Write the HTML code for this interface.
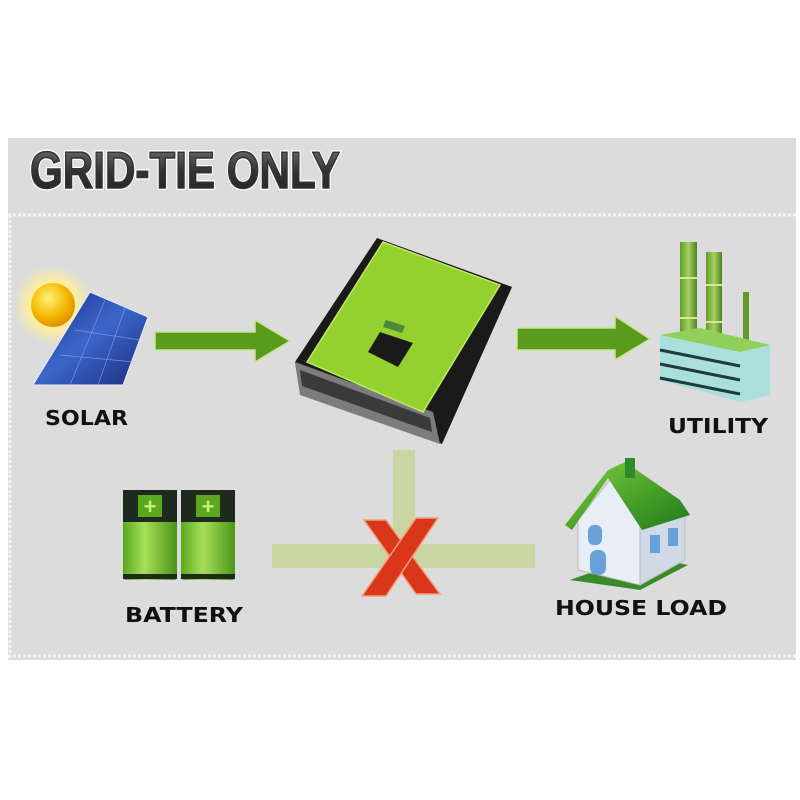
<!DOCTYPE html>
<html><head><meta charset="utf-8"><style>
html,body{margin:0;padding:0;background:#fff;width:800px;height:800px;overflow:hidden}
</style></head><body>
<svg width="800" height="800" viewBox="0 0 800 800" xmlns="http://www.w3.org/2000/svg">
<defs>
<linearGradient id="tg" x1="0" y1="0" x2="0" y2="1"><stop offset="0" stop-color="#777"/><stop offset="0.5" stop-color="#333"/><stop offset="1" stop-color="#222"/></linearGradient>
<radialGradient id="sun" cx="0.4" cy="0.35" r="0.7"><stop offset="0" stop-color="#fff27a"/><stop offset="0.6" stop-color="#f5b800"/><stop offset="1" stop-color="#d98a00"/></radialGradient>
<radialGradient id="glow"><stop offset="0.55" stop-color="#fff09a"/><stop offset="1" stop-color="#fff09a" stop-opacity="0"/></radialGradient>
<linearGradient id="pan" x1="0" y1="0" x2="1" y2="1"><stop offset="0" stop-color="#1f2f8a"/><stop offset="0.5" stop-color="#3b66c9"/><stop offset="1" stop-color="#1b2a78"/></linearGradient>
<linearGradient id="bat" x1="0" y1="0" x2="1" y2="0"><stop offset="0" stop-color="#5aa81e"/><stop offset="0.4" stop-color="#a6e05a"/><stop offset="1" stop-color="#4c9418"/></linearGradient>
<linearGradient id="roof" x1="0" y1="0" x2="1" y2="1"><stop offset="0" stop-color="#7cd03a"/><stop offset="1" stop-color="#1f7a1a"/></linearGradient>
<linearGradient id="chim" x1="0" y1="0" x2="1" y2="0"><stop offset="0" stop-color="#5f9a2a"/><stop offset="0.5" stop-color="#a8d060"/><stop offset="1" stop-color="#4c8020"/></linearGradient>
</defs>
<rect x="8" y="138" width="788" height="522" fill="#dcdcdc"/>
<line x1="8" y1="215" x2="796" y2="215" stroke="#f4f4f4" stroke-width="3" stroke-dasharray="3 2"/>
<line x1="10" y1="215" x2="10" y2="658" stroke="#f4f4f4" stroke-width="3" stroke-dasharray="3 2"/>
<line x1="8" y1="656" x2="796" y2="656" stroke="#f4f4f4" stroke-width="3" stroke-dasharray="3 2"/>
<text x="30" y="188" font-family="Liberation Sans Narrow, Liberation Sans, sans-serif" font-weight="bold" font-size="52" fill="#fff" stroke="#fff" stroke-width="4" textLength="310" lengthAdjust="spacingAndGlyphs">GRID-TIE ONLY</text>
<text x="30" y="188" font-family="Liberation Sans Narrow, Liberation Sans, sans-serif" font-weight="bold" font-size="52" fill="url(#tg)" stroke="#333" stroke-width="1.5" textLength="310" lengthAdjust="spacingAndGlyphs">GRID-TIE ONLY</text>

<!-- solar -->
<circle cx="53" cy="305" r="40" fill="url(#glow)"/>
<polygon points="90,292 148,317 123,385 33,385" fill="url(#pan)" stroke="#e8eef8" stroke-width="1"/>
<g stroke="#8fb0ff" stroke-width="0.7" opacity="0.7">
<line x1="75" y1="330" x2="140" y2="340"/><line x1="60" y1="355" x2="135" y2="362"/>
<line x1="105" y1="300" x2="70" y2="385"/><line x1="125" y1="308" x2="98" y2="385"/>
</g>
<circle cx="53" cy="305" r="22" fill="url(#sun)"/>
<text x="45" y="425" font-family="DejaVu Sans, sans-serif" font-weight="bold" font-size="20" fill="#111" textLength="83" lengthAdjust="spacingAndGlyphs">SOLAR</text>

<!-- arrows -->
<polygon points="155,332 255,332 255,320 290,341 255,362 255,350 155,350" fill="#5a9a1c" stroke="#c8e890" stroke-width="1.5"/>
<polygon points="517,328 615,328 615,316 650,339 615,360 615,350 517,350" fill="#5a9a1c" stroke="#c8e890" stroke-width="1.5"/>

<!-- inverter -->
<polygon points="295,362 377,238 512,287 442,444 300,392" fill="#1a1a1a"/>
<polygon points="295,362 433,412 440,444 300,395" fill="#7c7c7c"/>
<polygon points="300,370 430,418 432,432 302,386" fill="#3a3a3a"/>
<polygon points="383,242 500,285 423,412 307,362" fill="#94d12e" stroke="#c0ea60" stroke-width="1.5"/>
<polygon points="380,332 413,343 398,367 368,352" fill="#1a1a1a"/>
<polygon points="386,320 405,326 402,333 383,327" fill="#4a8a3a"/>

<!-- utility -->
<rect x="680" y="242" width="17" height="90" fill="url(#chim)"/>
<rect x="706" y="252" width="16" height="85" fill="url(#chim)"/>
<rect x="743" y="292" width="6" height="62" fill="#5f9a2a"/>
<line x1="680" y1="278" x2="697" y2="278" stroke="#d0e8a0" stroke-width="2"/>
<line x1="706" y1="285" x2="722" y2="285" stroke="#d0e8a0" stroke-width="2"/>
<line x1="680" y1="318" x2="697" y2="318" stroke="#d0e8a0" stroke-width="2"/>
<line x1="706" y1="322" x2="722" y2="322" stroke="#d0e8a0" stroke-width="2"/>
<polygon points="660,335 700,328 770,345 770,395 740,402 660,380" fill="#a9e0dc"/>
<polygon points="660,335 700,328 770,345 740,352" fill="#8fcf5a"/>
<g stroke="#1f3a3a" stroke-width="3">
<line x1="660" y1="350" x2="740" y2="366"/><line x1="660" y1="364" x2="740" y2="380"/><line x1="660" y1="378" x2="740" y2="394"/>
</g>
<text x="668" y="433" font-family="DejaVu Sans, sans-serif" font-weight="bold" font-size="20" fill="#111" textLength="100" lengthAdjust="spacingAndGlyphs">UTILITY</text>

<!-- connectors -->
<rect x="393" y="450" width="22" height="95" fill="#c9d6a4"/>
<rect x="272" y="544" width="263" height="24" fill="#c9d6a4"/>
<g stroke="#f0a080" stroke-width="1.5" fill="#d9361a">
<polygon points="364,520 386,520 440,594 416,594"/>
<polygon points="416,518 438,518 386,596 362,596"/>
</g>

<!-- battery -->
<g>
<rect x="123" y="490" width="54" height="90" rx="3" fill="url(#bat)"/>
<rect x="123" y="490" width="54" height="32" fill="#1f2a1f"/>
<rect x="138" y="495" width="24" height="22" fill="#5aa81e"/>
<text x="150" y="514" text-anchor="middle" font-family="Liberation Sans,sans-serif" font-weight="bold" font-size="22" fill="#c8f080">+</text>
<rect x="123" y="574" width="54" height="5" fill="#1f2a1f"/>
<rect x="181" y="490" width="54" height="90" rx="3" fill="url(#bat)"/>
<rect x="181" y="490" width="54" height="32" fill="#1f2a1f"/>
<rect x="196" y="495" width="24" height="22" fill="#5aa81e"/>
<text x="208" y="514" text-anchor="middle" font-family="Liberation Sans,sans-serif" font-weight="bold" font-size="22" fill="#c8f080">+</text>
<rect x="181" y="574" width="54" height="5" fill="#1f2a1f"/>
</g>
<text x="125" y="622" font-family="DejaVu Sans, sans-serif" font-weight="bold" font-size="20" fill="#111" textLength="118" lengthAdjust="spacingAndGlyphs">BATTERY</text>

<!-- house -->
<polygon points="570,580 640,590 688,565 640,555" fill="#3a8a2a"/>
<polygon points="578,520 610,480 640,525 640,585 578,570" fill="#e8eef5" stroke="#bbb"/>
<polygon points="640,525 685,512 685,560 640,585" fill="#d0dae6" stroke="#bbb"/>
<polygon points="565,525 608,470 625,462 680,500 690,515 642,530 608,478 572,530" fill="url(#roof)"/>
<rect x="625" y="458" width="10" height="20" fill="#2e8a2a"/>
<rect x="588" y="525" width="14" height="20" rx="6" fill="#6aa0d8"/>
<rect x="590" y="550" width="16" height="25" rx="7" fill="#6aa0d8"/>
<rect x="650" y="535" width="10" height="18" fill="#6aa0d8"/>
<rect x="668" y="528" width="10" height="18" fill="#6aa0d8"/>
<text x="555" y="615" font-family="DejaVu Sans, sans-serif" font-weight="bold" font-size="20" fill="#111" textLength="172" lengthAdjust="spacingAndGlyphs">HOUSE LOAD</text>
</svg>
</body></html>
